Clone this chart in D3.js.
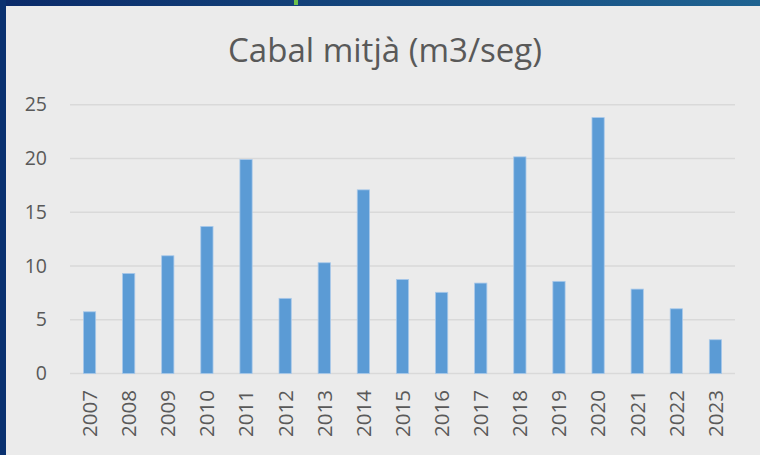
<!DOCTYPE html>
<html>
<head>
<meta charset="utf-8">
<script src="https://cdn.jsdelivr.net/npm/d3@7"></script>
<style>
  body { margin: 0; background: #ebebeb; }
  svg { display: block; font-family: "Open Sans", sans-serif; }
</style>
</head>
<body>
<svg width="760" height="455"></svg>
<script>
// data
const years = ["2007", "2008", "2009", "2010", "2011", "2012", "2013", "2014", "2015",
               "2016", "2017", "2018", "2019", "2020", "2021", "2022", "2023"];
const cabal = [5.74, 9.31, 10.95, 13.68, 19.9, 6.99, 10.3, 17.08, 8.75,
               7.55, 8.41, 20.15, 8.57, 23.8, 7.85, 6.02, 3.14];
const yTicks = [0, 5, 10, 15, 20, 25];
const title = "Cabal mitjà (m3/seg)";

const svg = d3.select("svg");
const width = 760, height = 455;

// background and frame
svg.append("rect").attr("width", width).attr("height", height).attr("fill", "#ebebeb");

const grad = svg.append("defs").append("linearGradient").attr("id", "band");
grad.append("stop").attr("offset", "0%").attr("stop-color", "#0a2a69");
grad.append("stop").attr("offset", "100%").attr("stop-color", "#1f6391");
svg.append("rect").attr("width", width).attr("height", 6).attr("fill", "url(#band)");
svg.append("rect").attr("width", 6).attr("height", height).attr("fill", "#0a3170");
svg.append("rect").attr("x", 294).attr("width", 4).attr("height", 5).attr("fill", "#6cc04a");

// scales
const x = d3.scaleBand().domain(years).range([70, 735]).paddingInner(0.687).paddingOuter(0.343);
const y = d3.scaleLinear().domain([0, 25]).range([373.5, 104.7]);

// grid lines
svg.append("g")
    .attr("class", "grid")
    .selectAll("line")
    .data(yTicks)
    .enter()
    .append("line")
    .attr("x1", 70)
    .attr("x2", 735)
    .attr("y1", (d) => y(d))
    .attr("y2", (d) => y(d))
    .attr("stroke", "#d9d9d9")
    .attr("stroke-width", 1.5);

// y axis labels
const yAxis = svg.append("g")
    .attr("transform", "translate(47,0)")
    .call(d3.axisLeft(y).tickValues(yTicks).tickSize(0).tickPadding(0));
yAxis.select(".domain").remove();
yAxis.selectAll("text")
    .attr("fill", "#595959")
    .style("font-size", "19.5px")
    .style("font-family", "'Open Sans', sans-serif");

// bars
svg.append("g")
    .attr("class", "bars")
    .selectAll("rect")
    .data(cabal)
    .enter()
    .append("rect")
    .attr("x", (d, i) => x(years[i]))
    .attr("y", (d) => y(d))
    .attr("width", x.bandwidth())
    .attr("height", (d) => y(0) - y(d))
    .attr("fill", "#5b9bd5")
    .attr("stroke", "#a9c9ea")
    .attr("stroke-width", 0.8);

// x axis labels
const xAxis = svg.append("g")
    .attr("transform", "translate(0,390)")
    .call(d3.axisBottom(x).tickSize(0).tickPadding(0));
xAxis.select(".domain").remove();
xAxis.selectAll("text")
    .attr("fill", "#595959")
    .style("font-size", "20.5px")
    .style("font-family", "'Open Sans', sans-serif")
    .attr("text-anchor", "end")
    .attr("dy", "0.36em")
    .attr("transform", "rotate(-90)")
    .attr("x", 0)
    .attr("y", 0);

// title
svg.append("text")
    .attr("x", 385)
    .attr("y", 62)
    .attr("text-anchor", "middle")
    .attr("fill", "#595959")
    .style("font-size", "33px")
    .attr("textLength", 314)
    .attr("lengthAdjust", "spacingAndGlyphs")
    .text(title);
</script>
</body>
</html>
